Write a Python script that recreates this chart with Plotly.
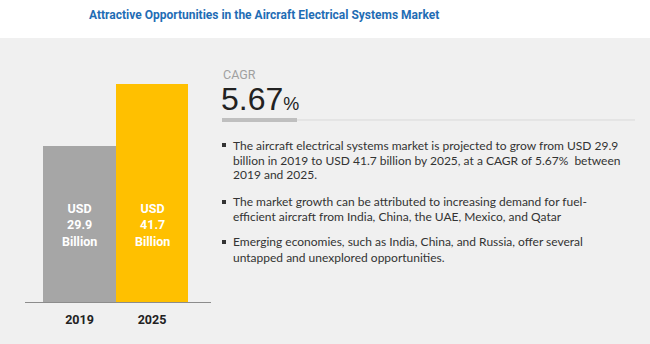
import plotly.graph_objects as go

# ---- data ----
years = ["2019", "2025"]
values = [29.9, 41.7]
bar_colors = ["#a6a6a6", "#ffc000"]
cagr_value = 5.67
title_text = "Attractive Opportunities in the Aircraft Electrical Systems Market"
bullet_lines = [
    ["The aircraft electrical systems market is projected to grow from USD 29.9",
     "billion in 2019 to USD 41.7 billion by 2025, at a CAGR of 5.67%  between",
     "2019 and 2025."],
    ["The market growth can be attributed to increasing demand for fuel-",
     "efficient aircraft from India, China, the UAE, Mexico, and Qatar"],
    ["Emerging economies, such as India, China, and Russia, offer several",
     "untapped and unexplored opportunities."],
]
bullet_line_y = [[145, 160, 174], [202, 216], [242, 257]]

W, H = 650, 344
COND = "Roboto, sans-serif"
BODY = "Lato, Roboto, sans-serif"


def py(p):
    return (H - p) / H


def px(p):
    return p / W


fig = go.Figure()
fig.add_trace(go.Bar(
    x=years, y=values, marker=dict(color=bar_colors, line=dict(width=0)),
    width=1, hoverinfo="skip", showlegend=False,
))

shapes = [
    dict(type="rect", xref="paper", yref="paper", x0=0, x1=1, y0=0, y1=py(38),
         fillcolor="#f0f0f0", line=dict(width=0), layer="below"),
    # CAGR underline
    dict(type="line", xref="paper", yref="paper", x0=px(222), x1=px(635), y0=py(120), y1=py(120),
         line=dict(color="#d9d9d9", width=1)),
    dict(type="line", xref="paper", yref="paper", x0=px(222), x1=px(297), y0=py(120), y1=py(120),
         line=dict(color="#bfbfbf", width=4)),
]

annotations = [
    dict(text=f"<b>{title_text}</b>", x=px(264), y=py(15), xref="paper", yref="paper",
         showarrow=False, xanchor="center", yanchor="middle",
         font=dict(family=COND, size=12, color="#1f6db5")),
    dict(text="CAGR", x=px(221), y=py(74), xref="paper", yref="paper", showarrow=False,
         xanchor="left", yanchor="middle", font=dict(family=COND, size=12.5, color="#a0a0a0")),
    dict(text=f"{cagr_value:.2f}<span style='font-size:18px'>%</span>", x=px(219), y=py(99),
         xref="paper", yref="paper", showarrow=False, xanchor="left", yanchor="middle",
         font=dict(family="Liberation Sans, Arial, sans-serif", size=32, color="#222222")),
]

for i, (yr, v) in enumerate(zip(years, values)):
    annotations.append(dict(
        text=f"<b>USD<br>{v}<br>Billion</b>", x=i, y=py(225), xref="x", yref="paper",
        showarrow=False, xanchor="center", yanchor="middle",
        font=dict(family=COND, size=12.5, color="white")))

for lines, ys in zip(bullet_lines, bullet_line_y):
    shapes.append(dict(type="rect", xref="paper", yref="paper",
                       x0=px(222), x1=px(226), y0=py(ys[0] + 2), y1=py(ys[0] - 2),
                       fillcolor="#333333", line=dict(width=0)))
    for t, yy in zip(lines, ys):
        annotations.append(dict(
            text=t, x=px(231), y=py(yy), xref="paper", yref="paper", showarrow=False,
            xanchor="left", yanchor="middle",
            font=dict(family=BODY, size=12, color="#333333")))

fig.update_layout(
    width=W, height=H, autosize=False,
    margin=dict(l=0, r=0, t=0, b=0),
    paper_bgcolor="white", plot_bgcolor="rgba(0,0,0,0)",
    bargap=0,
    xaxis=dict(domain=[px(25), px(211)], type="category", range=[-0.752, 1.814],
               showline=True, linecolor="#8c8c8c", linewidth=1, showgrid=False,
               ticks="", ticklabelstandoff=6,
               tickfont=dict(family=COND, size=12.5, color="#222222"),
               tickvals=years, ticktext=[f"<b>{y}</b>" for y in years], fixedrange=True),
    yaxis=dict(domain=[py(302), py(40)], range=[0, 262 / (218 / 41.7)], visible=False,
               showgrid=False, zeroline=False, fixedrange=True),
    shapes=shapes, annotations=annotations,
)

fig.write_html("out.html")
